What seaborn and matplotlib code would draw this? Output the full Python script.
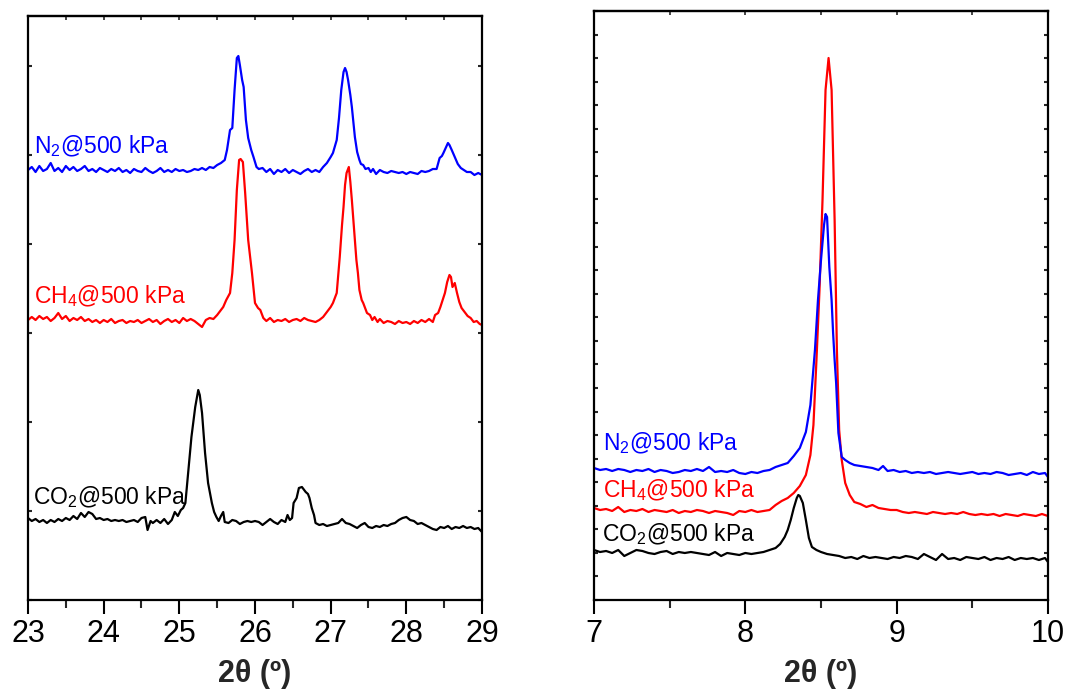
import numpy as np
import pandas as pd
import matplotlib
matplotlib.use("Agg")
import matplotlib.pyplot as plt
from matplotlib.ticker import MultipleLocator
import seaborn as sns

# ---------------- data ----------------
# Left panel: 2theta 23-29 deg, intensities in a.u. (stacked as displayed)
N2_L_X = [23.00, 23.05, 23.10, 23.15, 23.20, 23.25, 23.30, 23.35, 23.40, 23.45,
          23.50, 23.55, 23.60, 23.65, 23.70, 23.75, 23.80, 23.85, 23.90, 23.95,
          24.00, 24.05, 24.10, 24.15, 24.20, 24.25, 24.30, 24.35, 24.40, 24.45,
          24.50, 24.55, 24.60, 24.65, 24.70, 24.75, 24.80, 24.85, 24.90, 24.95,
          25.00, 25.05, 25.10, 25.15, 25.20, 25.25, 25.30, 25.35, 25.40, 25.45,
          25.50, 25.55, 25.60, 25.63, 25.67, 25.70, 25.73, 25.76, 25.78, 25.80,
          25.83, 25.85, 25.88, 25.91, 25.95, 25.98, 26.02, 26.05, 26.10, 26.15,
          26.20, 26.25, 26.30, 26.35, 26.40, 26.45, 26.50, 26.55, 26.60, 26.65,
          26.70, 26.75, 26.80, 26.85, 26.90, 26.95, 27.00, 27.03, 27.06, 27.08,
          27.11, 27.14, 27.17, 27.19, 27.21, 27.23, 27.26, 27.28, 27.30, 27.32,
          27.35, 27.38, 27.40, 27.43, 27.46, 27.50, 27.53, 27.56, 27.60, 27.65,
          27.70, 27.75, 27.80, 27.85, 27.90, 27.95, 28.00, 28.05, 28.10, 28.15,
          28.20, 28.25, 28.30, 28.35, 28.40, 28.44, 28.47, 28.49, 28.52, 28.55,
          28.57, 28.60, 28.64, 28.68, 28.72, 28.76, 28.80, 28.85, 28.90, 28.95,
          29.00]
N2_L_Y = [430, 433, 428, 434, 429, 431, 437, 429, 432, 428,
          434, 430, 433, 429, 431, 434, 429, 431, 428, 432,
          430, 428, 431, 429, 432, 428, 430, 427, 431, 429,
          428, 432, 429, 427, 429, 432, 428, 430, 428, 431,
          429, 430, 428, 429, 431, 430, 432, 430, 433, 432,
          435, 437, 440, 450, 470, 472, 510, 542, 544, 535,
          520, 513, 480, 462, 450, 443, 433, 431, 432, 428,
          431, 426, 430, 428, 431, 427, 430, 428, 426, 429,
          431, 428, 430, 428, 433, 437, 443, 447, 455, 460,
          482, 510, 528, 532, 528, 520, 505, 493, 478, 463,
          448, 440, 436, 435, 431, 432, 428, 431, 426, 430,
          428, 427, 429, 428, 427, 428, 426, 428, 427, 426,
          429, 428, 429, 431, 431, 442, 444, 447, 452, 457,
          455, 450, 443, 436, 432, 430, 428, 428, 425, 427,
          425]

CH4_L_X = [23.00, 23.05, 23.10, 23.15, 23.20, 23.25, 23.30, 23.35, 23.40, 23.45,
           23.50, 23.55, 23.60, 23.65, 23.70, 23.75, 23.80, 23.85, 23.90, 23.95,
           24.00, 24.05, 24.10, 24.15, 24.20, 24.25, 24.30, 24.35, 24.40, 24.45,
           24.50, 24.55, 24.60, 24.65, 24.70, 24.75, 24.80, 24.85, 24.90, 24.95,
           25.00, 25.05, 25.10, 25.15, 25.20, 25.25, 25.30, 25.35, 25.40, 25.45,
           25.50, 25.55, 25.58, 25.62, 25.67, 25.70, 25.73, 25.76, 25.79, 25.81,
           25.84, 25.87, 25.91, 25.96, 26.00, 26.04, 26.07, 26.11, 26.15, 26.20,
           26.25, 26.30, 26.35, 26.40, 26.45, 26.50, 26.55, 26.60, 26.65, 26.70,
           26.75, 26.80, 26.85, 26.90, 26.95, 27.00, 27.03, 27.06, 27.08, 27.10,
           27.12, 27.15, 27.17, 27.19, 27.21, 27.24, 27.26, 27.28, 27.30, 27.32,
           27.34, 27.36, 27.38, 27.41, 27.43, 27.45, 27.48, 27.52, 27.55, 27.58,
           27.62, 27.65, 27.70, 27.75, 27.80, 27.85, 27.90, 27.95, 28.00, 28.05,
           28.10, 28.15, 28.20, 28.25, 28.30, 28.35, 28.38, 28.42, 28.45, 28.48,
           28.51, 28.54, 28.57, 28.59, 28.61, 28.64, 28.67, 28.70, 28.73, 28.77,
           28.81, 28.85, 28.89, 28.93, 28.97, 29.00]
CH4_L_Y = [280, 283, 280, 284, 281, 283, 279, 282, 287, 281,
           284, 279, 282, 280, 283, 279, 281, 278, 280, 277,
           280, 278, 281, 277, 279, 280, 277, 279, 278, 280,
           277, 279, 281, 278, 280, 276, 279, 281, 278, 280,
           277, 282, 279, 281, 279, 276, 273, 280, 282, 281,
           285, 290, 293, 300, 307, 327, 360, 410, 440, 441,
           438, 407, 360, 327, 297, 292, 290, 282, 279, 282,
           278, 280, 279, 281, 278, 280, 281, 279, 282, 280,
           279, 278, 280, 283, 288, 293, 297, 303, 307, 325,
           343, 375, 393, 415, 427, 433, 418, 400, 380, 360,
           340, 327, 310, 300, 297, 293, 287, 285, 280, 283,
           278, 281, 277, 279, 278, 276, 279, 277, 278, 276,
           279, 277, 280, 278, 281, 278, 285, 287, 293, 300,
           307, 318, 325, 323, 313, 317, 307, 298, 292, 288,
           284, 282, 278, 279, 276, 275]

CO2_L_X = [23.00, 23.05, 23.10, 23.15, 23.20, 23.25, 23.30, 23.35, 23.40, 23.45,
           23.50, 23.55, 23.60, 23.65, 23.70, 23.75, 23.80, 23.85, 23.90, 23.95,
           24.00, 24.05, 24.10, 24.15, 24.20, 24.25, 24.30, 24.35, 24.40, 24.45,
           24.50, 24.55, 24.58, 24.62, 24.65, 24.70, 24.75, 24.80, 24.85, 24.90,
           24.94, 24.98, 25.02, 25.05, 25.08, 25.12, 25.16, 25.21, 25.25, 25.27,
           25.30, 25.34, 25.38, 25.41, 25.43, 25.46, 25.49, 25.52, 25.55, 25.58,
           25.60, 25.65, 25.70, 25.75, 25.80, 25.85, 25.90, 25.95, 26.00, 26.05,
           26.10, 26.15, 26.20, 26.25, 26.30, 26.35, 26.40, 26.43, 26.46, 26.49,
           26.51, 26.55, 26.58, 26.62, 26.65, 26.67, 26.70, 26.72, 26.75, 26.78,
           26.80, 26.85, 26.90, 26.95, 27.00, 27.05, 27.10, 27.15, 27.20, 27.25,
           27.30, 27.35, 27.40, 27.45, 27.50, 27.55, 27.60, 27.65, 27.70, 27.75,
           27.80, 27.85, 27.90, 27.95, 28.00, 28.05, 28.10, 28.15, 28.20, 28.25,
           28.30, 28.35, 28.40, 28.45, 28.50, 28.55, 28.60, 28.65, 28.70, 28.75,
           28.80, 28.85, 28.90, 28.95, 29.00]
CO2_L_Y = [82, 79, 81, 78, 80, 77, 80, 78, 81, 79,
           82, 80, 84, 81, 87, 83, 88, 86, 81, 82,
           80, 81, 79, 80, 79, 80, 78, 79, 80, 78,
           82, 83, 70, 79, 77, 80, 77, 81, 76, 80,
           88, 84, 90, 92, 97, 130, 163, 193, 210, 205,
           187, 147, 117, 105, 97, 88, 83, 79, 84, 88,
           78, 77, 80, 79, 76, 78, 79, 78, 79, 78,
           75, 78, 81, 78, 76, 80, 78, 85, 80, 82,
           97, 102, 112, 113, 110, 108, 106, 102, 92, 85,
           77, 75, 76, 74, 75, 76, 77, 81, 77, 76,
           74, 72, 75, 77, 73, 72, 74, 73, 75, 74,
           76, 77, 80, 82, 83, 80, 79, 76, 77, 75,
           73, 71, 70, 73, 72, 74, 71, 73, 72, 74,
           72, 73, 71, 72, 68]

# Right panel: 2theta 7-10 deg
N2_R_X = [7.00, 7.04, 7.08, 7.12, 7.16, 7.20, 7.24, 7.28, 7.32, 7.36,
          7.40, 7.44, 7.48, 7.52, 7.56, 7.60, 7.64, 7.68, 7.72, 7.76,
          7.80, 7.84, 7.88, 7.92, 7.96, 8.00, 8.04, 8.08, 8.12, 8.16,
          8.20, 8.24, 8.28, 8.32, 8.36, 8.40, 8.43, 8.46, 8.48, 8.50,
          8.52, 8.53, 8.54, 8.555, 8.57, 8.58, 8.59, 8.60, 8.615, 8.637,
          8.66, 8.69, 8.72, 8.76, 8.80, 8.84, 8.88, 8.91, 8.94, 8.98,
          9.02, 9.06, 9.10, 9.14, 9.18, 9.22, 9.26, 9.30, 9.34, 9.38,
          9.42, 9.46, 9.50, 9.54, 9.58, 9.62, 9.66, 9.70, 9.74, 9.78,
          9.82, 9.86, 9.90, 9.94, 9.98, 10.00]
N2_R_Y = [132, 130, 131, 129, 131, 130, 128, 130, 129, 131,
          128, 130, 129, 127, 128, 130, 129, 131, 129, 133,
          128, 129, 128, 130, 127, 126, 128, 127, 129, 130,
          133, 135, 137, 144, 152, 168, 195, 250, 300, 340,
          375, 386, 383, 333, 300, 267, 240, 217, 167, 143,
          140, 137, 135, 134, 133, 132, 130, 134, 129, 130,
          128, 129, 127, 128, 127, 128, 126, 127, 128, 127,
          126, 127, 128, 126, 127, 126, 128, 127, 125, 126,
          127, 125, 128, 126, 127, 123]

CH4_R_X = [7.00, 7.04, 7.08, 7.12, 7.16, 7.20, 7.24, 7.28, 7.32, 7.36,
           7.40, 7.44, 7.48, 7.52, 7.56, 7.60, 7.64, 7.68, 7.72, 7.76,
           7.80, 7.84, 7.88, 7.92, 7.96, 8.00, 8.04, 8.08, 8.12, 8.16,
           8.20, 8.24, 8.28, 8.32, 8.36, 8.40, 8.43, 8.45, 8.47, 8.49,
           8.51, 8.53, 8.55, 8.57, 8.59, 8.605, 8.62, 8.637, 8.66, 8.69,
           8.72, 8.76, 8.80, 8.84, 8.88, 8.92, 8.96, 9.00, 9.04, 9.08,
           9.12, 9.16, 9.20, 9.24, 9.28, 9.32, 9.36, 9.40, 9.44, 9.48,
           9.52, 9.56, 9.60, 9.64, 9.68, 9.72, 9.76, 9.80, 9.84, 9.88,
           9.92, 9.96, 10.00]
CH4_R_Y = [92, 90, 91, 89, 93, 88, 90, 89, 91, 88,
           90, 89, 88, 90, 87, 89, 88, 90, 89, 87,
           89, 88, 87, 85, 89, 88, 90, 88, 89, 90,
           95, 99, 102, 107, 114, 125, 145, 175, 240, 310,
           400, 510, 542, 510, 380, 250, 170, 140, 117, 105,
           98, 96, 93, 95, 92, 91, 90, 90, 88, 87,
           88, 87, 86, 88, 87, 86, 87, 86, 88, 86,
           85, 86, 85, 86, 84, 86, 85, 84, 86, 85,
           84, 86, 84]

CO2_R_X = [7.00, 7.04, 7.08, 7.12, 7.16, 7.20, 7.24, 7.28, 7.32, 7.36,
           7.40, 7.44, 7.48, 7.52, 7.56, 7.60, 7.64, 7.68, 7.72, 7.76,
           7.80, 7.84, 7.88, 7.92, 7.96, 8.00, 8.04, 8.08, 8.12, 8.16,
           8.20, 8.23, 8.26, 8.28, 8.30, 8.32, 8.34, 8.35, 8.36, 8.38,
           8.40, 8.42, 8.44, 8.47, 8.50, 8.54, 8.58, 8.62, 8.66, 8.70,
           8.74, 8.78, 8.82, 8.86, 8.90, 8.94, 8.98, 9.02, 9.06, 9.10,
           9.14, 9.18, 9.22, 9.26, 9.30, 9.34, 9.38, 9.42, 9.46, 9.50,
           9.54, 9.58, 9.62, 9.66, 9.70, 9.74, 9.78, 9.82, 9.86, 9.90,
           9.94, 9.98, 10.00]
CO2_R_Y = [50, 48, 49, 47, 50, 44, 47, 50, 49, 47,
           46, 48, 49, 46, 48, 47, 48, 47, 46, 45,
           48, 44, 47, 46, 45, 47, 46, 47, 48, 50,
           52, 56, 63, 70, 80, 92, 102, 105, 104, 97,
           80, 62, 53, 50, 48, 46, 45, 44, 42, 43,
           41, 44, 42, 43, 42, 41, 43, 42, 44, 43,
           41, 46, 43, 40, 46, 41, 42, 40, 43, 42,
           41, 43, 40, 42, 41, 43, 40, 42, 41, 42,
           40, 42, 38]

SERIES = ["CO2", "CH4", "N2"]
LABELS = {"N2": "N$_2$@500 kPa", "CH4": "CH$_4$@500 kPa", "CO2": "CO$_2$@500 kPa"}
COLORS = {"N2": "#0000ff", "CH4": "#ff0000", "CO2": "#000000"}
XLABEL = "2θ (º)"
LEFT_TICKS = [23, 24, 25, 26, 27, 28, 29]
RIGHT_TICKS = [7, 8, 9, 10]


def frame(parts):
    rows = []
    for name, xs, ys in parts:
        assert len(xs) == len(ys), name
        rows.append(pd.DataFrame({"two_theta": xs, "intensity": ys, "series": name}))
    return pd.concat(rows, ignore_index=True)


df_left = frame([("CO2", CO2_L_X, CO2_L_Y), ("CH4", CH4_L_X, CH4_L_Y), ("N2", N2_L_X, N2_L_Y)])
df_right = frame([("CO2", CO2_R_X, CO2_R_Y), ("CH4", CH4_R_X, CH4_R_Y), ("N2", N2_R_X, N2_R_Y)])

# ---------------- style ----------------
sns.set_style("ticks")
plt.rcParams["font.family"] = ["Liberation Sans", "DejaVu Sans"]
plt.rcParams["mathtext.fontset"] = "custom"
plt.rcParams["mathtext.rm"] = "Liberation Sans"
plt.rcParams["mathtext.it"] = "Liberation Sans:italic"
plt.rcParams["mathtext.bf"] = "Liberation Sans:bold"
plt.rcParams["mathtext.default"] = "regular"

W, H = 1067, 692
fig = plt.figure(figsize=(W / 100, H / 100), dpi=100)
ax1 = fig.add_axes([28 / W, 1 - 600 / H, (482 - 28) / W, (600 - 16) / H])
ax2 = fig.add_axes([594 / W, 1 - 600 / H, (1048 - 594) / W, (600 - 11) / H])

for ax, df in ((ax1, df_left), (ax2, df_right)):
    sns.lineplot(data=df, x="two_theta", y="intensity", hue="series",
                 hue_order=SERIES, palette=COLORS, estimator=None, sort=False,
                 legend=False, linewidth=1.6, ax=ax)

ax1.set_xlim(23, 29)
ax1.set_ylim(0, 584)
ax2.set_xlim(7, 10)
ax2.set_ylim(0, 589)

# series labels
label_pos_left = {"N2": (23.08, 447), "CH4": (23.08, 297), "CO2": (23.07, 96)}
label_pos_right = {"N2": (7.06, 150), "CH4": (7.06, 103), "CO2": (7.05, 59)}
for ax, pos in ((ax1, label_pos_left), (ax2, label_pos_right)):
    for s in SERIES:
        ax.text(pos[s][0], pos[s][1], LABELS[s], color=COLORS[s], fontsize=16.5,
                ha="left", va="baseline")

for ax, ticks, ystep in ((ax1, LEFT_TICKS, 89), (ax2, RIGHT_TICKS, 23.56)):
    for sp in ax.spines.values():
        sp.set_visible(True)
        sp.set_linewidth(1.6)
        sp.set_color("black")
    ax.set_xticks(ticks)
    ax.set_xticklabels([str(t) for t in ticks])
    ax.xaxis.set_minor_locator(MultipleLocator(0.5))
    ax.yaxis.set_major_locator(MultipleLocator(ystep))
    ax.tick_params(axis="x", which="major", direction="out", length=10, width=1.5,
                   labelsize=22, pad=4, top=False, bottom=True, colors="black")
    ax.tick_params(axis="x", which="minor", direction="out", length=6, width=1.5,
                   top=False, bottom=True)
    ax.tick_params(axis="y", which="both", direction="in", length=3, width=1.5,
                   left=True, right=True, labelleft=False, labelright=False)
    top = ax.secondary_xaxis("top")
    top.set_xticks(ticks)
    top.xaxis.set_minor_locator(MultipleLocator(0.5))
    top.tick_params(axis="x", which="both", direction="in", length=3, width=1.2,
                    labeltop=False)
    top.spines["top"].set_linewidth(1.6)
    ax.set_xlabel(XLABEL, fontsize=22, fontweight="bold", labelpad=7)
    ax.set_ylabel("")

fig.savefig("out.png", dpi=100, facecolor="white")
